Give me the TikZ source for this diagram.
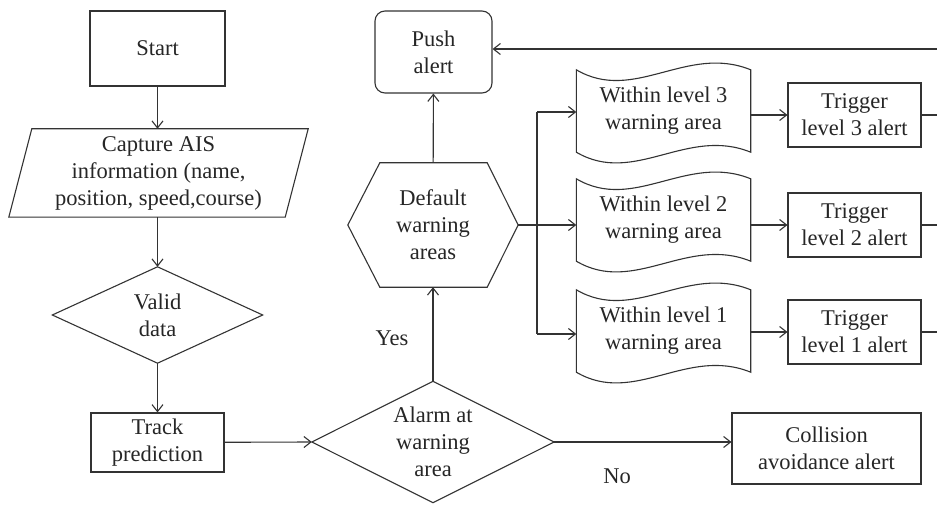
\documentclass[tikz,border=0pt]{standalone}
\usepackage{fontspec}
\setmainfont{Liberation Serif}
\usetikzlibrary{arrows.meta}
\tikzset{
  every node/.style={font=\fontsize{22.5}{27}\selectfont, align=center, inner sep=0pt, text=black!85},
  line/.style={line width=1.1pt, draw=black!80},
  arr/.style={line, -{Straight Barb[length=7pt,width=11pt]}},
  box/.style={draw=black!80, line width=1.1pt, rectangle},
  ghost/.style={rectangle},
  doc/.style={ghost, minimum width=174pt, minimum height=82pt},
  trig/.style={box, minimum width=133pt, minimum height=64pt}
}
\newcommand\docshape[1]{%
  \draw[line] (#1.north west) .. controls ([xshift=58,yshift=-34]#1.north west) and ([xshift=-64,yshift=26]#1.north east) .. (#1.north east)
    -- (#1.south east) .. controls ([xshift=-64,yshift=26]#1.south east) and ([xshift=58,yshift=-34]#1.south west) .. (#1.south west) -- cycle;}
\begin{document}
\begin{tikzpicture}[x=1pt,y=-1pt]
\useasboundingbox (0,0) rectangle (937,505);

\node[box, minimum width=135, minimum height=75] (start) at (157.5,48.5) {Start};
\node[ghost, minimum width=276, minimum height=88] (cap) at (158.5,173) {Capture AIS\\information (name,\\position, speed,course)};
\draw[line] ([xshift=11.5]cap.north west) -- ([xshift=11.5]cap.north east) -- ([xshift=-11.5]cap.south east) -- ([xshift=-11.5]cap.south west) -- cycle;
\node[ghost, minimum width=210, minimum height=96] (valid) at (157.5,315) {Valid\\data};
\draw[line] (valid.north) -- (valid.east) -- (valid.south) -- (valid.west) -- cycle;
\node[box, minimum width=133, minimum height=59] (track) at (157.5,442.5) {Track\\prediction};

\node[ghost, minimum width=242, minimum height=121] (alarm) at (433,442) {Alarm at\\warning\\area};
\draw[line] (alarm.north) -- (alarm.east) -- (alarm.south) -- (alarm.west) -- cycle;
\node[ghost, minimum width=170, minimum height=124] (hex) at (433,225) {Default\\warning\\areas};
\draw[line] (hex.west) -- ([xshift=32]hex.north west) -- ([xshift=-31]hex.north east) -- (hex.east) -- ([xshift=-31]hex.south east) -- ([xshift=32]hex.south west) -- cycle;
\node[box, rounded corners=10pt, minimum width=117, minimum height=82] (push) at (433.5,52) {Push\\alert};

\node[doc] (d3) at (663.5,111) {Within level 3\\warning area};
\node[doc] (d2) at (663.5,220) {Within level 2\\warning area};
\node[doc] (d1) at (663.5,331) {Within level 1\\warning area};
\docshape{d3}
\docshape{d2}
\docshape{d1}
\node[trig] (t3) at (854.5,115) {Trigger\\level 3 alert};
\node[trig] (t2) at (854.5,225) {Trigger\\level 2 alert};
\node[trig] (t1) at (854.5,332) {Trigger\\level 1 alert};
\node[box, minimum width=189, minimum height=71] (coll) at (826.5,448.5) {Collision\\avoidance alert};

\node (yes) at (392,338) {Yes};
\node (no) at (617,476) {No};

\draw[arr] (start) -- (start.south |- cap.north);
\draw[arr] (cap.south -| valid.north) -- (valid.north);
\draw[arr] (valid.south) -- (track);
\draw[arr] (track) -- (alarm.west);
\draw[arr] (alarm.north) -- (hex);
\draw[arr] (hex) -- (push);
\draw[arr] (alarm.east) -- (alarm.east -| coll.west);
\draw[arr] (hex.east) -- (hex.east -| d2.west);
\coordinate (vtop) at (537,112);
\coordinate (vbot) at (537,334);
\draw[line] (vtop) -- (vbot);
\draw[arr] (vtop) -- (vtop -| d3.west);
\draw[arr] (vbot) -- (vbot -| d1.west);
\draw[arr] (t3.west -| d3.east) -- (t3.west);
\draw[arr] (t2.west -| d2.east) -- (t2.west);
\draw[arr] (t1.west -| d1.east) -- (t1.west);
\coordinate (e3) at (937,115);
\coordinate (e2) at (937,225);
\coordinate (e1) at (937,332);
\coordinate (etop) at (937,49);
\draw[line] (t3) -- (e3);
\draw[line] (t2) -- (e2);
\draw[line] (t1) -- (e1);
\draw[arr] (etop) -- (etop -| push.east);
\end{tikzpicture}
\end{document}
